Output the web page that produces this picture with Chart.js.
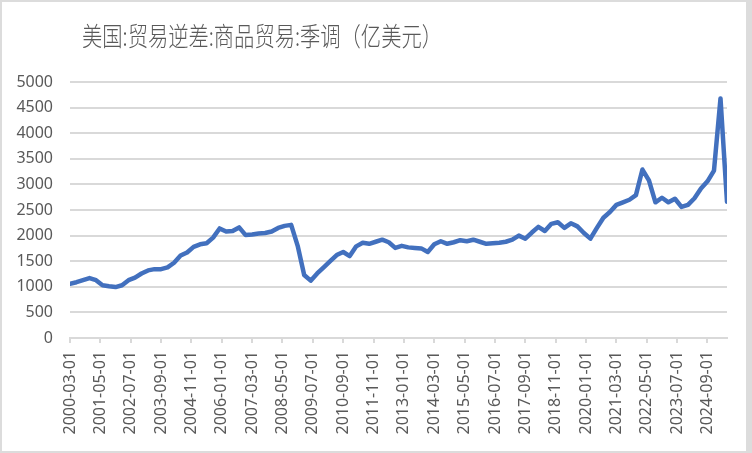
<!DOCTYPE html>
<html>
<head>
<meta charset="utf-8">
<script src="https://cdn.jsdelivr.net/npm/chart.js@4/dist/chart.umd.min.js"></script>
<style>
  body { margin: 0; background: #fff; }
  #wrap { position: relative; width: 752px; height: 453px; overflow: hidden; }
  #chart { position: absolute; left: 0; top: 0; }
  #frame {
    position: absolute; left: 0; top: 0; width: 752px; height: 453px;
    box-sizing: border-box; border: 2px solid #dcdcdc; border-right-width: 6px;
    pointer-events: none;
  }
  #title {
    position: absolute; left: 82px; top: 20px;
    font-family: 'Noto Sans CJK SC'; font-size: 26px; line-height: 30px;
    font-weight: 300;
    color: #595959; white-space: nowrap;
    transform: scaleX(0.78); transform-origin: 0 0;
  }
</style>
</head>
<body>
<div id="wrap">
  <canvas id="chart" width="752" height="453"></canvas>
  <div id="title">美国:贸易逆差:商品贸易:季调（亿美元）</div>
  <div id="frame"></div>
</div>
<script>
// quarterly goods trade deficit, 100 million USD, 2000-03 .. 2025-06
const deficit = [
  1060, 1090, 1130, 1170,   // 2000
  1130, 1030, 1010, 995,    // 2001
  1030, 1130, 1180, 1260,   // 2002
  1320, 1345, 1345, 1380,   // 2003
  1470, 1610, 1670, 1780,   // 2004
  1830, 1850, 1960, 2140,   // 2005
  2080, 2090, 2160, 2010,   // 2006
  2020, 2040, 2050, 2080,   // 2007
  2150, 2190, 2210, 1800,   // 2008
  1230, 1120, 1260, 1380,   // 2009
  1500, 1620, 1680, 1600,   // 2010
  1790, 1860, 1840, 1880,   // 2011
  1920, 1870, 1760, 1800,   // 2012
  1770, 1760, 1750, 1680,   // 2013
  1830, 1890, 1840, 1870,   // 2014
  1910, 1890, 1920, 1880,   // 2015
  1840, 1850, 1860, 1880,   // 2016
  1920, 2000, 1940, 2060,   // 2017
  2170, 2090, 2230, 2260,   // 2018
  2150, 2240, 2180, 2050,   // 2019
  1940, 2150, 2350, 2460,   // 2020
  2600, 2650, 2700, 2790,   // 2021
  3290, 3080, 2650, 2740,   // 2022
  2650, 2720, 2560, 2600,   // 2023
  2730, 2920, 3060, 3270,   // 2024
  4680, 2660                // 2025
];

// x axis labels shown (every 14 months)
const tickLabels = [
  "2000-03-01", "2001-05-01", "2002-07-01", "2003-09-01", "2004-11-01",
  "2006-01-01", "2007-03-01", "2008-05-01", "2009-07-01", "2010-09-01",
  "2011-11-01", "2013-01-01", "2014-03-01", "2015-05-01", "2016-07-01",
  "2017-09-01", "2018-11-01", "2020-01-01", "2021-03-01", "2022-05-01",
  "2023-07-01", "2024-09-01"
];

const yTicks = [0, 500, 1000, 1500, 2000, 2500, 3000, 3500, 4000, 4500, 5000];

// quarter-end dates for each value
const dates = [];
for (let y = 2000; dates.length < deficit.length; y++) {
  [3, 6, 9, 12].forEach(function(m) {
    if (dates.length < deficit.length) {
      dates.push(y + "-" + String(m).padStart(2, "0") + "-01");
    }
  });
}

// months since 2000-03
function monthIndex(d) {
  const parts = d.split("-");
  return (parseInt(parts[0]) - 2000) * 12 + (parseInt(parts[1]) - 3);
}

const textColor = "#595959";
const gridColor = "#d9d9d9";
const tickFont = { family: "'Noto Sans', sans-serif", size: 16 };

new Chart(document.getElementById("chart"), {
  type: "line",
  data: {
    datasets: [{
      data: dates.map(function(d, i) { return { x: monthIndex(d), y: deficit[i] }; }),
      borderColor: "#4270BE",
      borderWidth: 4.5,
      pointRadius: 0,
      tension: 0,
      borderJoinStyle: "round",
      borderCapStyle: "round"
    }]
  },
  options: {
    responsive: false,
    animation: false,
    layout: { padding: { top: 82, right: 25, bottom: 0, left: 0 } },
    plugins: { legend: { display: false }, tooltip: { enabled: false } },
    scales: {
      x: {
        type: "linear",
        min: 0,
        max: monthIndex(dates[dates.length - 1]),
        afterBuildTicks: function(scale) {
          scale.ticks = tickLabels.map(function(t) { return { value: monthIndex(t) }; });
        },
        afterFit: function(scale) { scale.height = 115; },
        ticks: {
          autoSkip: false,
          minRotation: 90,
          maxRotation: 90,
          padding: 8,
          color: textColor,
          font: tickFont,
          callback: function(value) {
            return tickLabels.find(function(t) { return monthIndex(t) === value; });
          }
        },
        grid: { drawOnChartArea: false, drawTicks: true, tickLength: 5, color: gridColor, lineWidth: 2 },
        border: { color: gridColor, width: 2 }
      },
      y: {
        min: 0,
        max: 5000,
        afterBuildTicks: function(scale) {
          scale.ticks = yTicks.map(function(v) { return { value: v }; });
        },
        afterFit: function(scale) { scale.width = 70; },
        ticks: {
          padding: 17,
          color: textColor,
          font: tickFont,
          callback: function(value) { return String(value); }
        },
        grid: { color: gridColor, lineWidth: 2, drawTicks: false },
        border: { display: false }
      }
    }
  }
});
</script>
</body>
</html>
